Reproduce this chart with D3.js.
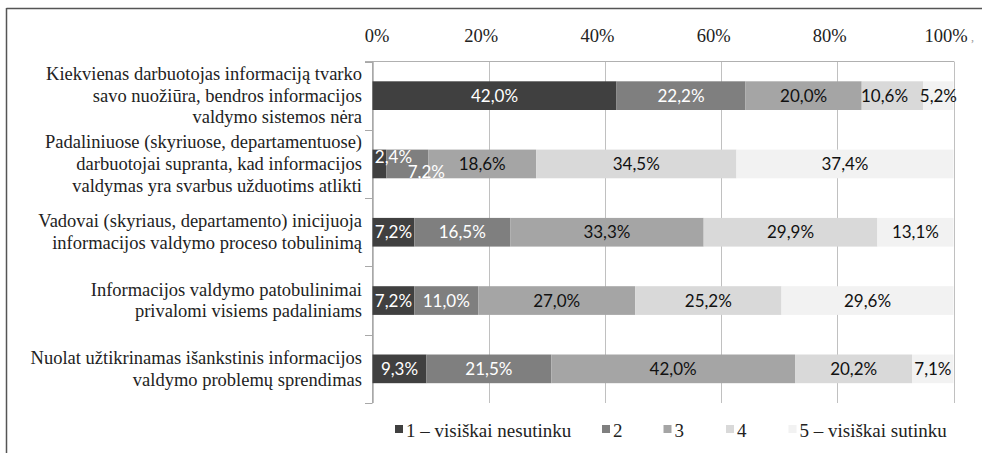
<!DOCTYPE html>
<html><head><meta charset="utf-8">
<script src="https://cdn.jsdelivr.net/npm/d3@7"></script>
<style>
html,body{margin:0;padding:0;background:#fff;}
svg{display:block;}
</style></head>
<body>
<svg id="chart" width="982" height="453"></svg>
<script>
// ---- data ----
const categories = [
  ["Kiekvienas darbuotojas informaciją tvarko", "savo nuožiūra, bendros informacijos", "valdymo sistemos nėra"],
  ["Padaliniuose (skyriuose, departamentuose)", "darbuotojai supranta, kad informacijos", "valdymas yra svarbus užduotims atlikti"],
  ["Vadovai (skyriaus, departamento) inicijuoja", "informacijos valdymo proceso tobulinimą"],
  ["Informacijos valdymo patobulinimai", "privalomi visiems padaliniams"],
  ["Nuolat užtikrinamas išankstinis informacijos", "valdymo problemų sprendimas"]
];
const seriesNames = ["1 – visiškai nesutinku", "2", "3", "4", "5 – visiškai sutinku"];
const s1 = [42.0, 2.4, 7.2, 7.2, 9.3];
const s2 = [22.2, 7.2, 16.5, 11.0, 21.5];
const s3 = [20.0, 18.6, 33.3, 27.0, 42.0];
const s4 = [10.6, 34.5, 29.9, 25.2, 20.2];
const s5 = [5.2, 37.4, 13.1, 29.6, 7.1];
const xTickValues = [0, 0.2, 0.4, 0.6, 0.8, 1.0];
const xTickLabels = ["0%", "20%", "40%", "60%", "80%", "100%"];

const colors = ["#404040", "#7f7f7f", "#a5a5a5", "#d9d9d9", "#f2f2f2"];
const labelColors = ["#ffffff", "#ffffff", "#111111", "#111111", "#111111"];

const SERIF = "'Liberation Serif'";
const SANS = "'Lato'";

const series = [s1, s2, s3, s4, s5];
const rows = categories.map((c, i) => {
  const o = {id: i};
  series.forEach((s, k) => o["s" + k] = s[i]);
  return o;
});
const keys = series.map((s, k) => "s" + k);
const stacked = d3.stack().keys(keys).offset(d3.stackOffsetExpand)(rows);

const svg = d3.select("#chart");

// frame
svg.append("line").attr("x1", 6.5).attr("x2", 982).attr("y1", 8.5).attr("y2", 8.5)
  .attr("stroke", "#555").attr("stroke-width", 1.5);
svg.append("line").attr("x1", 6.5).attr("x2", 6.5).attr("y1", 8).attr("y2", 453)
  .attr("stroke", "#555").attr("stroke-width", 1.5);

const x = d3.scaleLinear().domain([0, 1]).range([372.5, 953.5]);
const y = d3.scaleBand().domain(d3.range(categories.length)).range([61.5, 403]).padding(0);
const barH = y.step() * 0.42;

// gridlines
svg.append("g").selectAll("line.grid").data(xTickValues).join("line")
  .attr("class", "grid")
  .attr("x1", d => Math.round(x(d)) + 0.5).attr("x2", d => Math.round(x(d)) + 0.5)
  .attr("y1", 61.5).attr("y2", 403)
  .attr("stroke", "#c0c0c0").attr("stroke-width", 1);

// top axis
const axTop = svg.append("g").attr("transform", "translate(0,61.5)")
  .call(d3.axisTop(x).tickValues(xTickValues).tickSize(0).tickPadding(20)
    .tickFormat((d, i) => xTickLabels[i]));
axTop.select(".domain").remove();
axTop.selectAll("text")
  .style("font-family", SERIF).style("font-size", "18.5px").attr("fill", "#222")
  .attr("dx", (d, i) => i === 0 ? 4 : -8);
svg.append("line").attr("x1", 365).attr("x2", 954).attr("y1", 61.5).attr("y2", 61.5)
  .attr("stroke", "#b0b0b0");
svg.append("text").attr("x", 971).attr("y", 41)
  .style("font-family", SERIF).style("font-size", "12px").attr("fill", "#999").text(",");

// left axis
svg.append("line").attr("x1", 372.5).attr("x2", 372.5).attr("y1", 61.5).attr("y2", 403)
  .attr("stroke", "#a8a8a8");
const bounds = d3.range(categories.length + 1).map(i => 61.5 + i * y.step());
svg.selectAll("line.ytick").data(bounds).join("line")
  .attr("class", "ytick")
  .attr("x1", 365).attr("x2", 372.5)
  .attr("y1", d => Math.round(d) + 0.5).attr("y2", d => Math.round(d) + 0.5)
  .attr("stroke", "#a8a8a8");

// category labels
const catG = svg.append("g");
categories.forEach((lines, i) => {
  const cy = y(i) + y.bandwidth() / 2;
  const lh = 21.6;
  const t = catG.append("text").style("font-family", SERIF).style("font-size", "18.5px")
    .attr("fill", "#222").attr("text-anchor", "end");
  lines.forEach((ln, j) => {
    t.append("tspan").attr("x", 362)
      .attr("y", cy + (j - (lines.length - 1) / 2) * lh + 6)
      .text(ln);
  });
});

// bars
const fmt = v => d3.format(".1f")(v).replace(".", ",") + "%";
const nudge = {"0-3": [-8, 0], "1-0": [14, -7], "1-1": [19, 8]};
stacked.forEach((layer, k) => {
  svg.append("g").selectAll("rect").data(layer).join("rect")
    .attr("x", d => x(d[0])).attr("width", d => x(d[1]) - x(d[0]))
    .attr("y", (d, i) => y(i) + (y.bandwidth() - barH) / 2).attr("height", barH)
    .attr("fill", colors[k]);
});
stacked.forEach((layer, k) => {
  svg.append("g").selectAll("text").data(layer).join("text")
    .attr("x", (d, i) => (x(d[0]) + x(d[1])) / 2 + (nudge[i + "-" + k] || [0, 0])[0])
    .attr("y", (d, i) => y(i) + y.bandwidth() / 2 + 6 + (nudge[i + "-" + k] || [0, 0])[1])
    .attr("text-anchor", "middle")
    .style("font-family", SANS).style("font-size", "17px")
    .attr("fill", labelColors[k])
    .text((d, i) => fmt(series[k][i]));
});

// legend
const legX = [395, 602, 663.5, 726, 788.5];
const leg = svg.append("g");
seriesNames.forEach((n, k) => {
  leg.append("rect").attr("x", legX[k]).attr("y", 425).attr("width", 8).attr("height", 8)
    .attr("fill", colors[k]);
  leg.append("text").attr("x", legX[k] + 11).attr("y", 437)
    .style("font-family", SERIF).style("font-size", "19px").attr("fill", "#222").text(n);
});
</script>
</body></html>
